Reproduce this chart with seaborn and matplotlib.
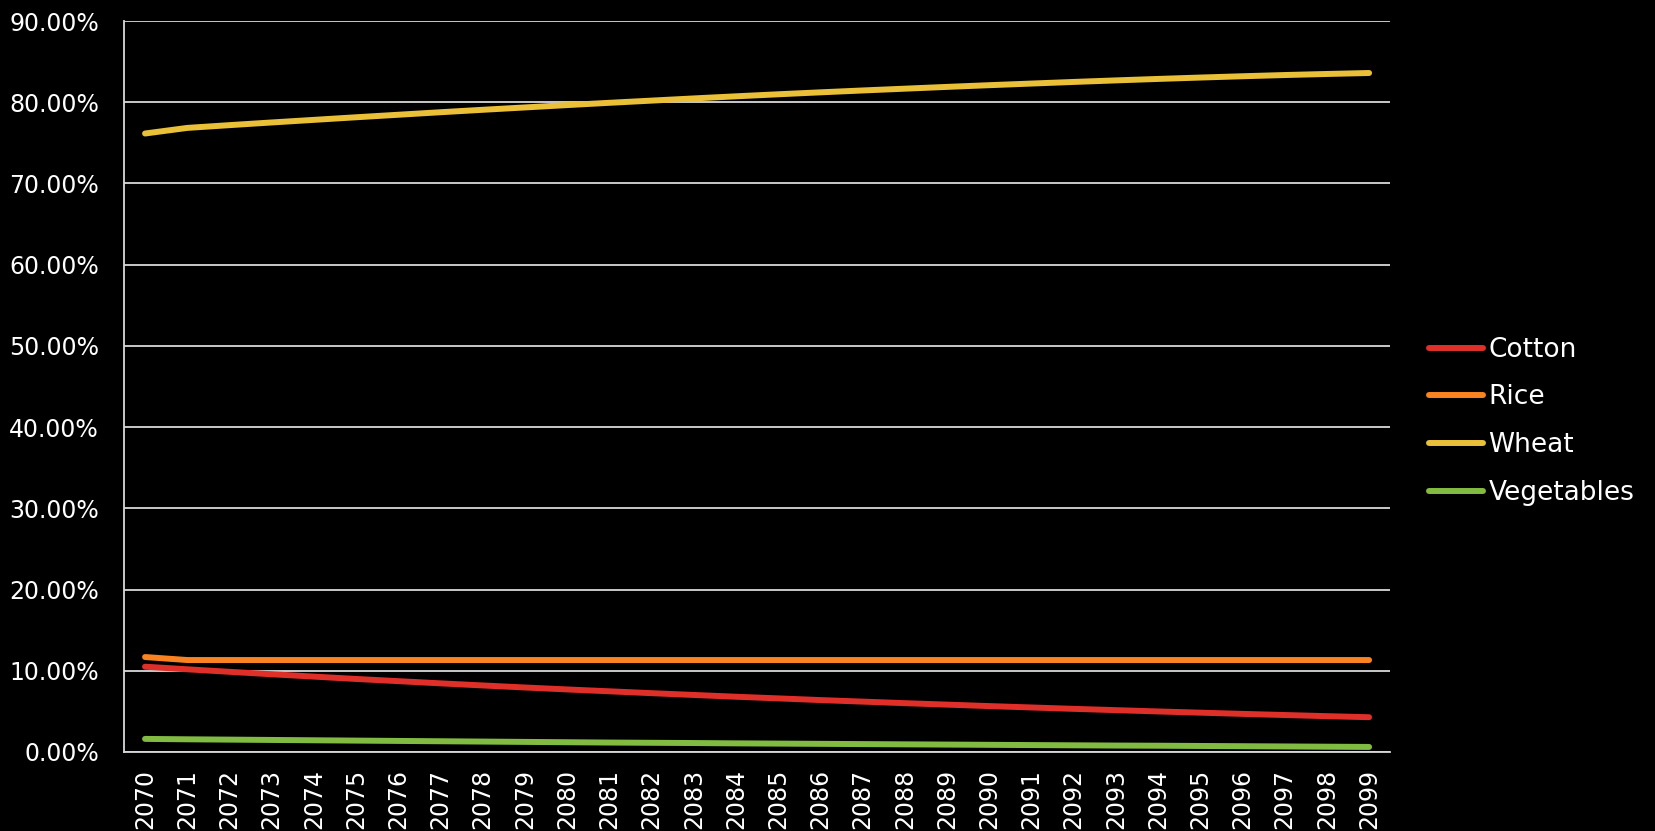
import numpy as np
import pandas as pd
import matplotlib
matplotlib.use("Agg")
import matplotlib.pyplot as plt
from matplotlib.ticker import FuncFormatter
import seaborn as sns

years = list(range(2070, 2100))

cotton = [10.50, 10.18, 9.87, 9.57, 9.28, 8.99, 8.72, 8.45, 8.19, 7.94,
          7.70, 7.47, 7.24, 7.02, 6.80, 6.60, 6.39, 6.20, 6.01, 5.83,
          5.65, 5.48, 5.31, 5.15, 4.99, 4.84, 4.69, 4.55, 4.41, 4.28]
rice = [11.69] + [11.32] * 29
wheat = [76.15, 76.84, 77.18, 77.51, 77.83, 78.15, 78.46, 78.77, 79.07, 79.36,
         79.65, 79.93, 80.20, 80.47, 80.73, 80.98, 81.22, 81.45, 81.67, 81.89,
         82.10, 82.30, 82.50, 82.69, 82.87, 83.04, 83.20, 83.35, 83.48, 83.60]
vegetables = [1.61, 1.56, 1.52, 1.48, 1.44, 1.40, 1.36, 1.32, 1.28, 1.24,
              1.20, 1.16, 1.13, 1.10, 1.06, 1.03, 1.00, 0.97, 0.94, 0.91,
              0.88, 0.85, 0.82, 0.79, 0.77, 0.74, 0.71, 0.68, 0.65, 0.62]

crops = ["Cotton", "Rice", "Wheat", "Vegetables"]
colors = ["#DE2F29", "#FA8220", "#E9C037", "#82BB41"]

frames = []
for name, vals in zip(crops, [cotton, rice, wheat, vegetables]):
    frames.append(pd.DataFrame({"year": years, "share": np.array(vals) / 100, "crop": name}))
df = pd.concat(frames)

sns.set_style("dark")
plt.rcParams['font.family'] = ['DejaVu Sans']

fig = plt.figure(figsize=(16.55, 8.31), dpi=100, facecolor="black")
ax = fig.add_axes([0.0749, 0.0951, 0.8400 - 0.0749, 0.9747 - 0.0951])
ax.set_facecolor("black")

sns.lineplot(data=df, x="year", y="share", hue="crop", palette=colors,
             hue_order=crops, linewidth=4.3, ax=ax, legend=True)
for line in ax.lines:
    line.set_solid_capstyle("round")

ax.set_xlim(2069.5, 2099.5)
ax.set_ylim(0, 0.9)
ax.set_xlabel("")
ax.set_ylabel("")

ax.set_yticks(np.arange(0, 0.91, 0.1))
ax.yaxis.set_major_formatter(FuncFormatter(lambda v, p: f"{v * 100:.2f}%"))
ax.set_xticks(years)
ax.set_xticklabels([str(y) for y in years], rotation=90)
ax.set_xticks(np.arange(2069.5, 2100, 1), minor=True)

ax.tick_params(axis="y", colors="white", labelsize=17, length=6, width=1.3, pad=12)
ax.tick_params(axis="x", which="major", colors="white", labelsize=17, length=0, pad=12)
ax.tick_params(axis="x", which="minor", colors="white", length=6, width=1.3)

ax.grid(axis="y", color="#D9D9D9", linewidth=1.3)
ax.grid(axis="x", visible=False)
ax.set_axisbelow(True)
for side in ["top", "right"]:
    ax.spines[side].set_visible(False)
for side in ["left", "bottom"]:
    ax.spines[side].set_color("#D9D9D9")
    ax.spines[side].set_linewidth(1.3)

handles, labels = ax.get_legend_handles_labels()
for h in handles:
    h.set_linewidth(4.3)
    h.set_solid_capstyle("round")
leg = ax.legend(handles, labels, loc="center left", bbox_to_anchor=(0.8634, 0.493),
                bbox_transform=fig.transFigure, frameon=False, fontsize=19,
                handlelength=2.05, handletextpad=0.2, labelspacing=0.82,
                borderpad=0, borderaxespad=0)
for t in leg.get_texts():
    t.set_color("white")

fig.savefig("out.png", dpi=100, facecolor="black")
